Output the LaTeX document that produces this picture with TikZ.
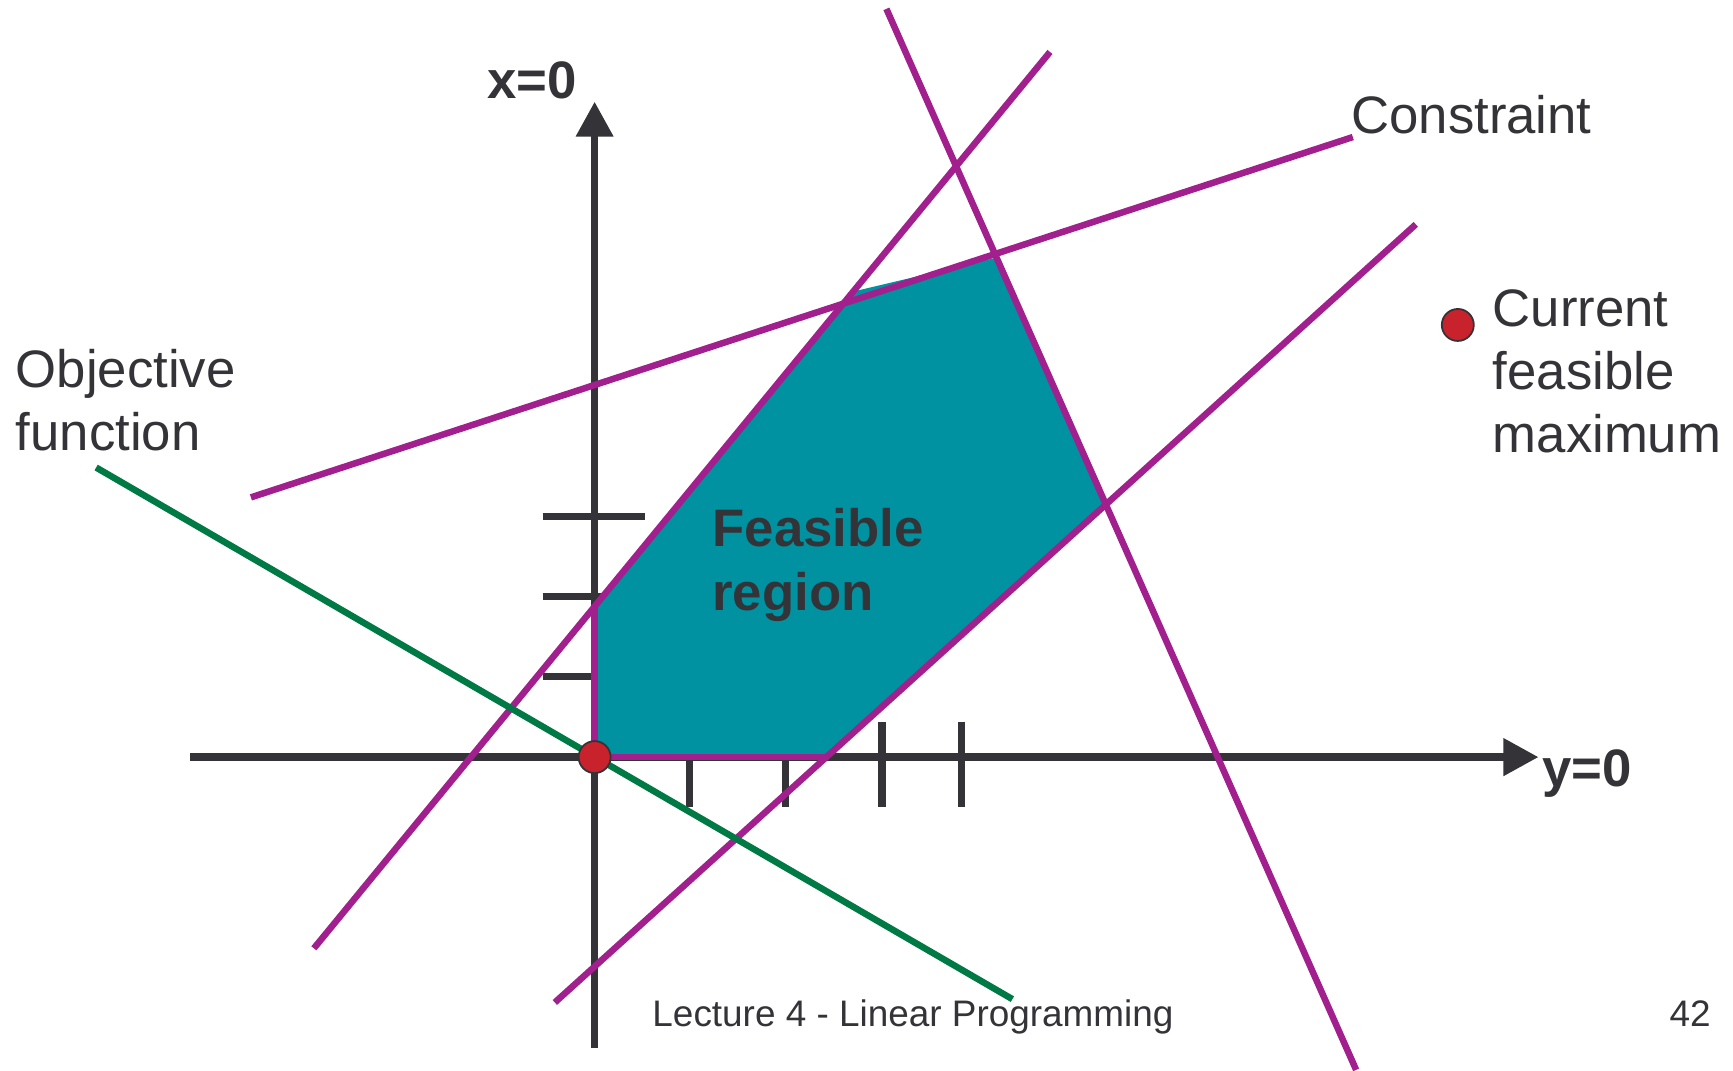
\documentclass[tikz,border=0pt]{standalone}
\usepackage{fontspec}
\setmainfont{Liberation Sans}
\usetikzlibrary{arrows.meta}
\definecolor{ink}{RGB}{51,51,56}
\definecolor{tealfill}{RGB}{0,146,160}
\definecolor{plum}{RGB}{161,32,141}
\definecolor{objgreen}{RGB}{0,122,68}
\definecolor{dotred}{RGB}{200,34,44}
\begin{document}
\begin{tikzpicture}[x=0.110523mm,y=-0.110523mm,
  axis/.style={draw=ink, line width=2.1pt, -{Triangle[length=3.5mm,width=3.6mm]}},
  tickmark/.style={draw=ink, line width=2pt},
  cons/.style={draw=plum, line width=1.85pt},
  obj/.style={draw=objgreen, line width=1.85pt},
  region/.style={fill=tealfill},
  ptdot/.style={circle, fill=dotred, draw=ink, line width=0.5pt, minimum size=3.2mm, inner sep=0pt},
  lbl/.style={text=ink, font=\fontsize{15}{18}\selectfont, inner sep=0pt, align=left, anchor=base west},
  blbl/.style={lbl, font=\fontsize{15}{18.2}\selectfont\bfseries},
  foot/.style={text=ink, font=\fontsize{10.5}{12}\selectfont, inner sep=0pt, anchor=base west}]
\useasboundingbox (0,0) rectangle (1568,969);
% axes
\coordinate (hstart) at (172,685);
\coordinate (hend) at (1392,685);
\coordinate (vstart) at (538,948);
\coordinate (vend) at (538,92);
\draw[axis] (hstart) -- (hend);
\draw[axis] (vstart) -- (vend);
% ticks
\foreach \y in {467,540,612} \draw[tickmark] (491,\y) -- (584,\y);
\foreach \x in {624,711,798,870} \draw[tickmark] (\x,653) -- (\x,730);
% feasible region
\coordinate (o) at (538,685);
\coordinate (a) at (538,548);
\coordinate (b) at (771,264);
\coordinate (c) at (902,233);
\coordinate (d) at (1000,456.5);
\coordinate (e) at (748,685);
\fill[region] (o) -- (a) -- (b) -- (c) -- (d) -- (e) -- cycle;
% constraints
\draw[cons] (227,450) -- (1224,124);
\draw[cons] (284,858) -- (950,47);
\draw[cons] (802,8) -- (1227,968);
\draw[cons] (502,907) -- (1281,203);
\draw[cons] (a) -- (o) -- (e);
% objective
\draw[obj] (87,423) -- (916,904);
% points
\node[ptdot] (opt) at (o) {};
\node[ptdot] (legdot) at (1319,294) {};
% labels
\node[blbl] (xlab) at (440,89) {x=0};
\node[blbl] (ylab) at (1395,712) {y=0};
\node[lbl] (conlab) at (1222,121) {Constraint};
\node[lbl] (curlab) at (1350,409.6) {Current\\feasible\\maximum};
\node[lbl] (objlab) at (13.6,407.8) {Objective\\function};
\node[blbl] (reglab) at (644,552.5) {Feasible\\region};
\node[foot] (footer) at (589.7,929) {Lecture 4 - Linear Programming};
\node[foot] (pagenum) at (1510,929) {42};
\end{tikzpicture}
\end{document}
